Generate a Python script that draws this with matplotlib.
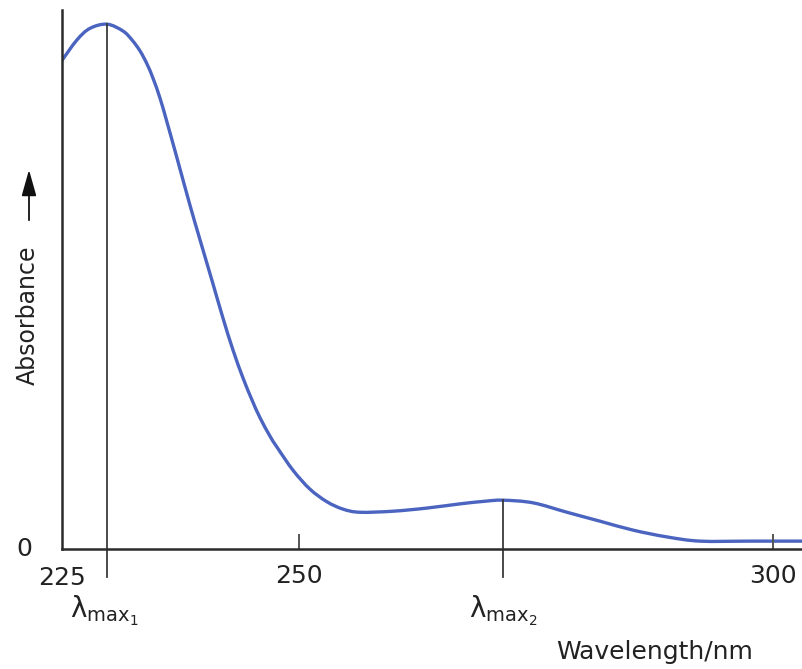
import matplotlib
matplotlib.use("Agg")
import matplotlib.pyplot as plt
from matplotlib.path import Path
from matplotlib.patches import PathPatch, FancyArrowPatch

# Data (wavelength in nm, absorbance in arbitrary units)
wavelength = [225.00, 226.58, 227.95, 229.75, 231.43, 232.38, 233.23, 233.97,
              234.60, 235.34, 236.08, 237.13, 238.50, 239.56, 240.93, 241.98,
              243.04, 244.09, 245.04, 245.89, 246.94, 247.68, 249.37, 251.16,
              252.95, 254.64, 256.43, 259.92, 263.50, 266.98, 269.62, 271.52,
              274.68, 278.27, 281.75, 285.23, 288.82, 292.30, 297.57, 303.06]
absorbance = [0.931, 0.970, 0.992, 1.000, 0.987, 0.970, 0.949, 0.924,
              0.897, 0.859, 0.813, 0.745, 0.655, 0.589, 0.505, 0.440,
              0.379, 0.326, 0.284, 0.250, 0.215, 0.194, 0.150, 0.114,
              0.090, 0.076, 0.070, 0.072, 0.078, 0.086, 0.091, 0.093,
              0.088, 0.070, 0.053, 0.036, 0.023, 0.015, 0.015, 0.015]

lambda_max = [229.75, 271.52]
lambda_abs = [1.000, 0.093]
lambda_labels = ['λ$_{\\mathrm{max}_1}$', 'λ$_{\\mathrm{max}_2}$']

xtick_pos = [250, 300]
xtick_labels = ['250', '300']

plt.rcParams['font.family'] = ['DejaVu Sans']
plt.rcParams['mathtext.fontset'] = 'dejavusans'

fig = plt.figure(figsize=(8.02, 6.69), dpi=100)
ax = fig.add_axes([62/802, 120/669, 1 - 62/802, (549 - 10)/669])
ax.set_xlim(225, 303.06)
ax.set_ylim(0, 1.027)

# smooth curve through the read points (Catmull-Rom as cubic Bezier segments)
pts = list(zip(wavelength, absorbance))
verts = [pts[0]]
codes = [Path.MOVETO]
n = len(pts)
for i in range(n - 1):
    p0 = pts[i - 1] if i > 0 else pts[i]
    p1 = pts[i]
    p2 = pts[i + 1]
    p3 = pts[i + 2] if i + 2 < n else pts[i + 1]
    c1 = (p1[0] + (p2[0] - p0[0]) / 6, p1[1] + (p2[1] - p0[1]) / 6)
    c2 = (p2[0] - (p3[0] - p1[0]) / 6, p2[1] - (p3[1] - p1[1]) / 6)
    verts += [c1, c2, p2]
    codes += [Path.CURVE4] * 3
ax.add_patch(PathPatch(Path(verts, codes), facecolor='none', edgecolor='#4a64c0',
                       lw=2.4, capstyle='round', joinstyle='round'))

for lx, la in zip(lambda_max, lambda_abs):
    ax.plot([lx, lx], [-0.053, la], color='#3a3a3a', lw=1.3, clip_on=False)

for s in ['top', 'right']:
    ax.spines[s].set_visible(False)
for s in ['left', 'bottom']:
    ax.spines[s].set_color('#2b2b2b')
    ax.spines[s].set_linewidth(1.8)

ax.set_yticks([])
ax.set_xticks(xtick_pos)
ax.set_xticklabels(xtick_labels)
ax.tick_params(axis='x', direction='in', length=11, width=1.4, color='#555555',
               labelsize=18, labelcolor='#222222', pad=11)

# corner labels
ax.text(225, -0.032, '225', transform=ax.transData, ha='center', va='top',
        fontsize=18, color='#222222')
ax.text(-0.04, 0, '0', transform=ax.get_yaxis_transform(), ha='right', va='center',
        fontsize=18, color='#222222')

# lambda max labels
for lx, lab, dx in zip(lambda_max, lambda_labels, [-0.3, 0.0]):
    ax.text(lx + dx, -0.085, lab, ha='center', va='top', fontsize=20,
            color='#222222', clip_on=False)

fig.text(655/802, 1 - 652/669, 'Wavelength/nm', ha='center', va='center',
         fontsize=18, color='#222222')
fig.text(28/802, 1 - 315/669, 'Absorbance', rotation=90, ha='center', va='center',
         fontsize=17, color='#222222')
fig.patches.append(FancyArrowPatch(
    (29/802, 1 - 223/669), (29/802, 1 - 167/669), transform=fig.transFigure,
    arrowstyle='-|>,head_length=16,head_width=4.5', color='#111111', lw=1.3,
    mutation_scale=1))

fig.savefig('out.png', dpi=100)
